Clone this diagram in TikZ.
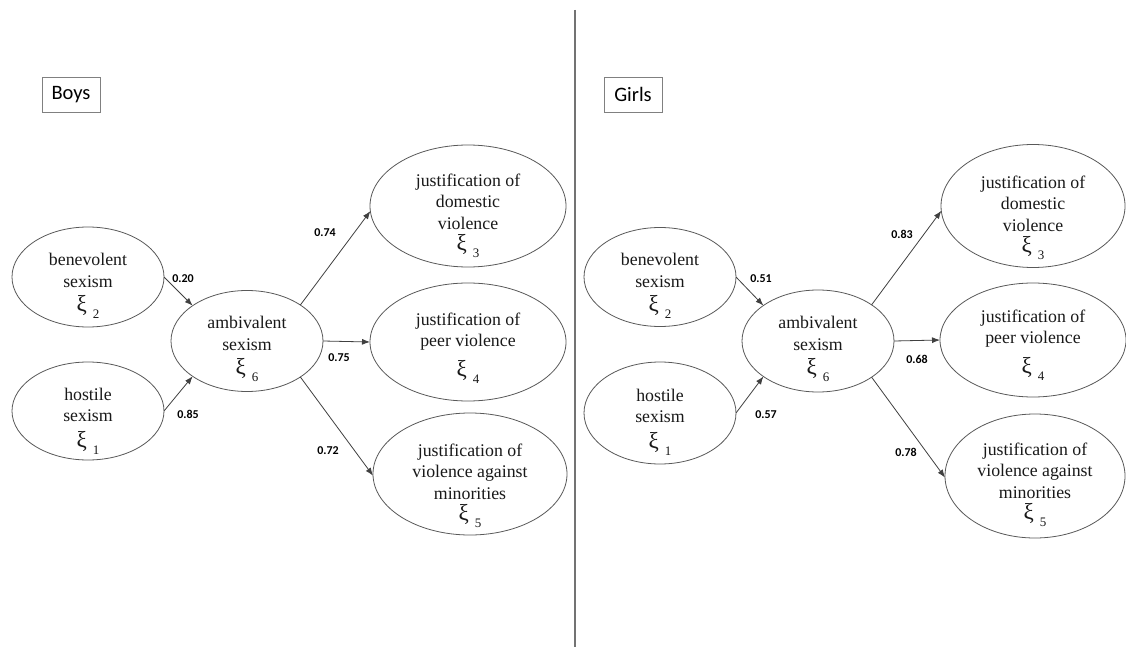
\documentclass[tikz,border=0pt]{standalone}
\usepackage{fontspec}
\setmainfont{Liberation Serif}
\newfontfamily\calib{Carlito}
\usetikzlibrary{shapes.geometric,arrows.meta}
\newcommand{\xisub}[1]{{\fontsize{23}{21.5}\selectfont ξ}\hspace{6pt}\raisebox{-7pt}{\fontsize{13}{13}\selectfont #1}}
\tikzset{
  lat/.style={ellipse,draw=black!65,line width=0.8pt,inner sep=0pt,outer sep=0pt},
  ltext/.style={align=center,inner sep=0pt,font=\fontsize{17.8}{21.5}\selectfont,text=black!90},
  grp/.style={draw=black!50,line width=0.7pt,minimum width=58pt,minimum height=35pt,inner sep=0pt,
    font=\calib\fontsize{20.5}{22}\selectfont},
  path/.style={draw=black!75,line width=0.8pt,-{Latex[length=8pt,width=6pt]}},
  coef/.style={font=\calib\bfseries\fontsize{12}{12}\selectfont,inner sep=0pt}
}
\begin{document}
\begin{tikzpicture}[x=1pt,y=-1pt]
\useasboundingbox (0,0) rectangle (1126,647);
\fill[white] (0,0) rectangle (1126,647);
\draw[black!55,line width=1.6pt] (575,10) -- (575,647);
% Boys
\node[grp] (boys) at (71,94.5) {Boys};
\node[lat,minimum width=152pt,minimum height=100pt] (benL) at (88,277) {};
\node[lat,minimum width=152pt,minimum height=98pt] (hosL) at (88,411) {};
\node[lat,minimum width=152pt,minimum height=101pt] (ambL) at (247,341) {};
\node[lat,minimum width=196pt,minimum height=122pt] (domL) at (468,206) {};
\node[lat,minimum width=196pt,minimum height=118pt] (peerL) at (468,342) {};
\node[lat,minimum width=194pt,minimum height=122pt] (minL) at (470,474) {};
\node[ltext] (tbenL) at ([yshift=-9pt]benL.center) {benevolent\\sexism\\[3pt]\xisub{2}};
\node[ltext] (thosL) at ([yshift=-10pt]hosL.center) {hostile\\sexism\\[4pt]\xisub{1}};
\node[ltext] (tambL) at ([yshift=-8pt]ambL.center) {ambivalent\\sexism\\[3pt]\xisub{6}};
\node[ltext] (tdomL) at ([yshift=-10pt]domL.center) {justification of\\domestic\\violence\\\xisub{3}};
\node[ltext] (tpeerL) at ([yshift=-6pt]peerL.center) {justification of\\peer violence\\[8pt]\xisub{4}};
\node[ltext] (tminL) at ([yshift=-12pt]minL.center) {justification of\\violence against\\minorities\\\xisub{5}};
\draw[path] (benL.east) -- (ambL.147);
\draw[path] (hosL.east) -- (ambL.213);
\draw[path] (ambL.34) -- (domL.183);
\draw[path] (ambL.east) -- (peerL.west);
\draw[path] (ambL.-34) -- (minL.181);
\node[coef] (cL1) at (183,278.5) {0.20};
\node[coef] (cL2) at (188,414) {0.85};
\node[coef] (cL3) at (325,233) {0.74};
\node[coef] (cL4) at (339,358) {0.75};
\node[coef] (cL5) at (328,451) {0.72};
% Girls
\node[grp] (girls) at (633,94.5) {Girls};
\node[lat,minimum width=152pt,minimum height=99pt] (benR) at (660,277) {};
\node[lat,minimum width=152pt,minimum height=102pt] (hosR) at (660,413) {};
\node[lat,minimum width=152pt,minimum height=102pt] (ambR) at (818,341) {};
\node[lat,minimum width=184pt,minimum height=123pt] (domR) at (1033,206) {};
\node[lat,minimum width=186pt,minimum height=114pt] (peerR) at (1033,340) {};
\node[lat,minimum width=180pt,minimum height=124pt] (minR) at (1035,476) {};
\node[ltext] (tbenR) at ([yshift=-9pt]benR.center) {benevolent\\sexism\\[3pt]\xisub{2}};
\node[ltext] (thosR) at ([yshift=-9pt]hosR.center) {hostile\\sexism\\[4pt]\xisub{1}};
\node[ltext] (tambR) at ([yshift=-8pt]ambR.center) {ambivalent\\sexism\\[3pt]\xisub{6}};
\node[ltext] (tdomR) at ([yshift=-12pt]domR.center) {justification of\\domestic\\violence\\\xisub{3}};
\node[ltext] (tpeerR) at ([yshift=-5pt]peerR.center) {justification of\\peer violence\\[8pt]\xisub{4}};
\node[ltext] (tminR) at ([yshift=-9pt]minR.center) {justification of\\violence against\\minorities\\\xisub{5}};
\draw[path] (benR.east) -- (ambR.147);
\draw[path] (hosR.east) -- (ambR.213);
\draw[path] (ambR.34) -- (domR.183);
\draw[path] (ambR.east) -- (peerR.west);
\draw[path] (ambR.-34) -- (minR.181);
\node[coef] (cR1) at (761,279) {0.51};
\node[coef] (cR2) at (766,415) {0.57};
\node[coef] (cR3) at (902,234) {0.83};
\node[coef] (cR4) at (917,359) {0.68};
\node[coef] (cR5) at (906,452) {0.78};
\end{tikzpicture}
\end{document}
